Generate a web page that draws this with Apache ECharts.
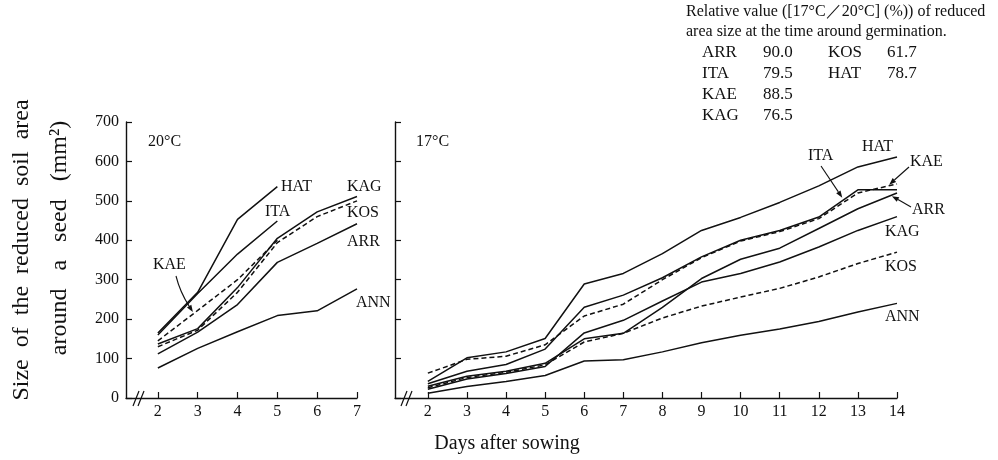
<!DOCTYPE html>
<html>
<head>
<meta charset="utf-8">
<script src="https://cdn.jsdelivr.net/npm/echarts@6/dist/echarts.min.js"></script>
<style>html,body{margin:0;padding:0;background:#fff}#main{width:998px;height:460px}</style>
</head>
<body>
<div id="main"></div>
<script>
// days on the x axes
var days20 = [2, 3, 4, 5, 6, 7];
var days17 = [2, 3, 4, 5, 6, 7, 8, 9, 10, 11, 12, 13, 14];
var yTicks = [0, 100, 200, 300, 400, 500, 600, 700];

// 20°C panel (mm2), HAT/ITA/KAE stop at day 5
var hat20 = [165, 268, 453, 536];
var ita20 = [160, 265, 365, 449];
var kae20 = [145, 222, 300, 400];
var kag20 = [137, 176, 280, 405, 472, 511];
var kos20 = [130, 172, 268, 394, 460, 500];
var arr20 = [112, 167, 237, 344, 392, 442];
var ann20 = [76, 126, 168, 209, 221, 277];

// 17°C panel (mm2)
var hat17 = [42, 102, 117, 151, 289, 316, 366, 425, 458, 496, 538, 586, 611];
var ita17 = [36, 68, 85, 124, 230, 261, 305, 358, 400, 425, 459, 528, 528];
var kae17 = [63, 98, 106, 135, 208, 238, 300, 356, 398, 422, 455, 520, 543];
var arr17 = [30, 55, 68, 88, 150, 164, 230, 303, 352, 380, 430, 480, 520];
var kag17 = [22, 48, 62, 80, 165, 197, 246, 294, 316, 345, 383, 425, 460];
var kos17 = [26, 52, 65, 84, 142, 164, 203, 233, 256, 278, 307, 341, 370];
var ann17 = [12, 29, 42, 57, 94, 97, 117, 140, 159, 175, 194, 218, 240];

// relative value table
var relNames = ['ARR', 'ITA', 'KAE', 'KAG', 'KOS', 'HAT'];
var relValues = ['90.0', '79.5', '88.5', '76.5', '61.7', '78.7'];

var serif = '"Liberation Serif", "DejaVu Serif", serif';

function pairs(days, vals) {
  return vals.map(function (v, i) { return [days[i], v]; });
}

function mkLine(name, grid, days, vals, dashed) {
  return {
    name: name,
    type: 'line',
    xAxisIndex: grid,
    yAxisIndex: grid,
    data: pairs(days, vals),
    symbol: 'none',
    silent: true,
    lineStyle: {color: '#111', width: 1.5, type: dashed ? [5, 3] : 'solid'}
  };
}

function xAx(grid, min, max, ticks) {
  return {
    type: 'value', gridIndex: grid, min: min, max: max,
    axisLine: {show: true, lineStyle: {color: '#111', width: 1.4}},
    axisTick: {inside: true, length: 6, customValues: ticks, lineStyle: {color: '#111', width: 1.2}},
    axisLabel: {customValues: ticks, color: '#111', fontFamily: serif, fontSize: 16, margin: 6},
    splitLine: {show: false}
  };
}

function yAx(grid, showLabel) {
  return {
    type: 'value', gridIndex: grid, min: 0, max: 700, interval: 100,
    axisLine: {show: true, lineStyle: {color: '#111', width: 1.4}},
    axisTick: {inside: true, length: 6, lineStyle: {color: '#111', width: 1.2}},
    axisLabel: {show: showLabel, color: '#111', fontFamily: serif, fontSize: 16, margin: 7},
    splitLine: {show: false}
  };
}

var chart = echarts.init(document.getElementById('main'));

function txt(x, y, s, size, align) {
  return {
    type: 'text', x: x, y: y, silent: true,
    style: {text: s, fill: '#111', font: (size || 16) + 'px ' + serif,
      textAlign: align || 'left', textVerticalAlign: 'middle'}
  };
}

function vtxt(x, y, s) {
  return {
    type: 'text', x: x, y: y, rotation: Math.PI / 2, silent: true,
    style: {text: s, fill: '#111', font: '24px ' + serif,
      textAlign: 'center', textVerticalAlign: 'middle'}
  };
}

var graphics = [
  txt(148, 142, '20°C'), txt(416, 142, '17°C'),
  txt(281, 187, 'HAT'), txt(265, 212, 'ITA'), txt(153, 265, 'KAE'),
  txt(347, 187, 'KAG'), txt(347, 213, 'KOS'), txt(347, 242, 'ARR'), txt(356, 303, 'ANN'),
  txt(862, 147, 'HAT'), txt(808, 156, 'ITA'), txt(910, 162, 'KAE'),
  txt(912, 210, 'ARR'), txt(885, 232, 'KAG'), txt(885, 267, 'KOS'), txt(885, 317, 'ANN'),
  txt(686, 12, 'Relative value ([17°C／20°C] (%)) of reduced', 16),
  txt(686, 32, 'area size at the time around germination.', 16),
  txt(507, 444, 'Days after sowing', 20, 'center'),
  vtxt(22, 250, 'Size  of  the  reduced  soil  area'),
  vtxt(60, 238, 'around   a   seed   (mm²)')
];

// relative value table: two columns
for (var i = 0; i < relNames.length; i++) {
  var col = i < 4 ? 0 : 1;
  var row = i < 4 ? i : i - 4;
  var y = 53 + row * 21;
  graphics.push(txt(702 + col * 126, y, relNames[i], 17));
  graphics.push(txt(763 + col * 124, y, relValues[i], 17));
}

// axis break marks
[133, 401].forEach(function (bx) {
  graphics.push({type: 'line', silent: true, shape: {x1: bx, y1: 406, x2: bx + 6, y2: 391}, style: {stroke: '#111', lineWidth: 1.2}});
  graphics.push({type: 'line', silent: true, shape: {x1: bx + 5, y1: 406, x2: bx + 11, y2: 391}, style: {stroke: '#111', lineWidth: 1.2}});
});

chart.setOption({
  backgroundColor: '#fff',
  animation: false,
  grid: [
    {left: 126, top: 122, width: 231, height: 276},
    {left: 395, top: 122, width: 502, height: 276}
  ],
  xAxis: [xAx(0, 1.2, 7, days20), xAx(1, 1.16, 14, days17)],
  yAxis: [yAx(0, true), yAx(1, false)],
  series: [
    mkLine('HAT', 0, days20, hat20), mkLine('ITA', 0, days20, ita20),
    mkLine('KAE', 0, days20, kae20, true), mkLine('KAG', 0, days20, kag20),
    mkLine('KOS', 0, days20, kos20, true), mkLine('ARR', 0, days20, arr20),
    mkLine('ANN', 0, days20, ann20),
    mkLine('HAT', 1, days17, hat17), mkLine('ITA', 1, days17, ita17),
    mkLine('KAE', 1, days17, kae17, true), mkLine('ARR', 1, days17, arr17),
    mkLine('KAG', 1, days17, kag17), mkLine('KOS', 1, days17, kos17, true),
    mkLine('ANN', 1, days17, ann17)
  ]
});

// arrows from labels to the curves, tips taken from data coords
function arrow(from, tip, curve) {
  var dx = tip[0] - (curve ? curve[0] : from[0]);
  var dy = tip[1] - (curve ? curve[1] : from[1]);
  var len = Math.sqrt(dx * dx + dy * dy);
  var ux = dx / len, uy = dy / len;
  var hl = 7, hw = 2.6;
  var bx = tip[0] - ux * hl, by = tip[1] - uy * hl;
  var out = [];
  if (curve) {
    out.push({type: 'bezierCurve', silent: true, shape: {x1: from[0], y1: from[1], x2: bx, y2: by, cpx1: curve[0], cpy1: curve[1]},
      style: {stroke: '#111', lineWidth: 1.1, fill: null}});
  } else {
    out.push({type: 'line', silent: true, shape: {x1: from[0], y1: from[1], x2: bx, y2: by}, style: {stroke: '#111', lineWidth: 1.1}});
  }
  out.push({type: 'polygon', silent: true,
    shape: {points: [tip, [bx - uy * hw, by + ux * hw], [bx + uy * hw, by - ux * hw]]},
    style: {fill: '#111'}});
  return out;
}

var tipKae20 = chart.convertToPixel({gridIndex: 0}, [2.88, 218]);
var tipIta17 = chart.convertToPixel({gridIndex: 1}, [12.6, 508]);
var tipKae17 = chart.convertToPixel({gridIndex: 1}, [13.8, 541]);
var tipArr17 = chart.convertToPixel({gridIndex: 1}, [13.87, 512]);

graphics = graphics
  .concat(arrow([176, 276], tipKae20, [180, 292]))
  .concat(arrow([821, 166], tipIta17))
  .concat(arrow([909, 167], tipKae17))
  .concat(arrow([911, 207], tipArr17));

chart.setOption({graphic: graphics});
</script>
</body>
</html>
